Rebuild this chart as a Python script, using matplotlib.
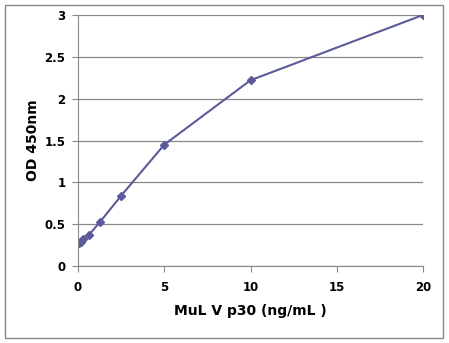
import matplotlib
matplotlib.use("Agg")
import matplotlib.pyplot as plt
from matplotlib.patches import Rectangle

conc = [0.078, 0.156, 0.3125, 0.625, 1.25, 2.5, 5, 10, 20]
od = [0.27, 0.29, 0.32, 0.37, 0.52, 0.84, 1.45, 2.22, 3.0]
xticks = [0, 5, 10, 15, 20]
yticks = [0, 0.5, 1, 1.5, 2, 2.5, 3]

fig = plt.figure(figsize=(4.49, 3.43), dpi=100)
ax = fig.add_axes([78/449, 1-266/343, (423-78)/449, (266-15)/343])
ax.plot(conc, od, color='#5b5b9b', lw=1.5, marker='D', ms=4.5, mfc='#5b5b9b', mec='#5b5b9b')
ax.set_xlim(0, 20)
ax.set_ylim(0, 3)
ax.set_xticks(xticks)
ax.set_xticklabels([str(t) for t in xticks])
ax.set_yticks(yticks)
ax.set_yticklabels(['0', '0.5', '1', '1.5', '2', '2.5', '3'])
ax.grid(axis='y', color='#888888', lw=0.9)
ax.set_axisbelow(True)
for s in ['top', 'right']:
    ax.spines[s].set_visible(False)
for s in ['left', 'bottom']:
    ax.spines[s].set_color('#888888')
ax.tick_params(colors='#888888', labelcolor='black', length=4, labelsize=8.5)
for lab in ax.get_xticklabels() + ax.get_yticklabels():
    lab.set_fontweight('bold')
ax.tick_params(axis='x', pad=7)
ax.tick_params(axis='y', pad=5)
ax.set_xlabel('MuL V p30 (ng/mL )', fontsize=10, fontweight='bold', labelpad=7)
ax.set_ylabel('OD 450nm', fontsize=10, fontweight='bold', labelpad=3)
fig.patches.append(Rectangle((5/449, 5/343), 438/449, 333/343, transform=fig.transFigure,
                             fill=False, edgecolor='#888888', lw=1))
fig.savefig('out.png', dpi=100)
